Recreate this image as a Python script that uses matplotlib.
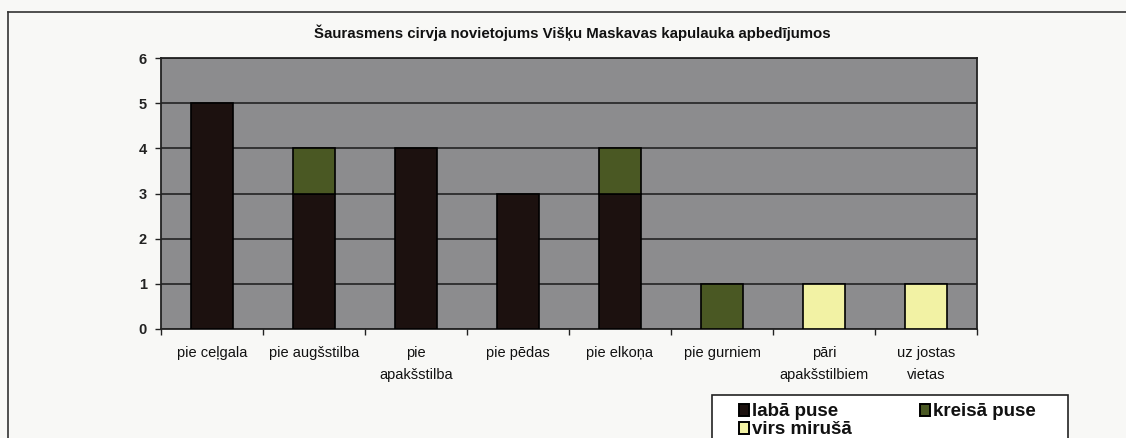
import matplotlib
matplotlib.use("Agg")
import matplotlib.pyplot as plt
from matplotlib.lines import Line2D
from matplotlib.patches import Rectangle
import numpy as np

plt.rcParams["font.family"] = ["Liberation Sans", "DejaVu Sans"]

categories = [
    "pie ceļgala", "pie augšstilba", "pie\napakšstilba", "pie pēdas",
    "pie elkoņa", "pie gurniem", "pāri\napakšstilbiem", "uz jostas\nvietas",
]
laba_puse = [5, 3, 4, 3, 3, 0, 0, 0]
kreisa_puse = [0, 1, 0, 0, 1, 1, 0, 0]
virs_mirusa = [0, 0, 0, 0, 0, 0, 1, 1]

series = [
    ("labā puse", laba_puse, "#1c110f"),
    ("kreisā puse", kreisa_puse, "#4a5823"),
    ("virs mirušā", virs_mirusa, "#f2f2a4"),
]

W, H = 1126, 438


def fx(px):
    return px / W


def fy(py):
    return 1 - py / H


fig = plt.figure(figsize=(W / 100, H / 100), dpi=100, facecolor="#f8f8f6")
ax = fig.add_axes([fx(161), fy(329), 816 / W, 271 / H])
ax.set_facecolor("#8c8c8e")

x = np.arange(len(categories))
bottom = np.zeros(len(categories))
for name, vals, color in series:
    vals = np.array(vals, dtype=float)
    mask = vals > 0
    ax.bar(x[mask], vals[mask], width=0.42, bottom=bottom[mask], color=color,
           edgecolor="black", linewidth=1.2, zorder=3)
    bottom += vals

ax.set_xlim(-0.5, len(categories) - 0.5)
ax.set_ylim(0, 6)
ax.set_yticks(range(0, 7))
ax.yaxis.grid(True, color="#1a1a1a", linewidth=1.1, zorder=1)
ax.set_axisbelow(True)

# ticks sit on category boundaries, labels in the middle
ax.set_xticks(np.arange(-0.5, len(categories)))
ax.set_xticklabels([])
ax.set_xticks(x, minor=True)
ax.set_xticklabels(categories, minor=True, fontsize=10.5, linespacing=1.75,
                   color="#111111")
ax.tick_params(axis="x", which="minor", length=0, pad=12)
ax.tick_params(axis="x", which="major", length=4, width=1, color="#222222")
ax.tick_params(axis="y", length=4, width=1, color="#222222", pad=6)
for lbl in ax.get_yticklabels():
    lbl.set_fontsize(10.5)
    lbl.set_fontweight("bold")
    lbl.set_color("#222222")

for side in ["top", "right", "bottom", "left"]:
    ax.spines[side].set_color("#222222")
    ax.spines[side].set_linewidth(1.3)

fig.text(fx(572), fy(33),
         "Šaurasmens cirvja novietojums Višķu Maskavas kapulauka apbedījumos",
         ha="center", va="center", fontsize=10.8, fontweight="bold", color="#111111")

# outer frame of the chart area
fig.add_artist(Line2D([fx(8), fx(8)], [0, fy(12)], color="#333333", linewidth=1.2))
fig.add_artist(Line2D([fx(8), 1], [fy(12), fy(12)], color="#333333", linewidth=1.2))

# legend box, laid out row by row (x of swatch, text baseline y)
fig.add_artist(Rectangle((fx(712), fy(445)), 356 / W, 50 / H, transform=fig.transFigure,
                         facecolor="white", edgecolor="#222222", linewidth=1.2))
legend_pos = [(739, 416), (920, 416), (739, 434)]
for (name, vals, color), (lx, ly) in zip(series, legend_pos):
    fig.add_artist(Rectangle((fx(lx), fy(ly)), 10 / W, 12 / H, transform=fig.transFigure,
                             facecolor=color, edgecolor="black", linewidth=1.4))
    fig.text(fx(lx + 13), fy(ly), name, ha="left", va="baseline", fontsize=13.5,
             fontweight="bold", color="#111111")

fig.savefig("out.png", dpi=100, facecolor=fig.get_facecolor())
